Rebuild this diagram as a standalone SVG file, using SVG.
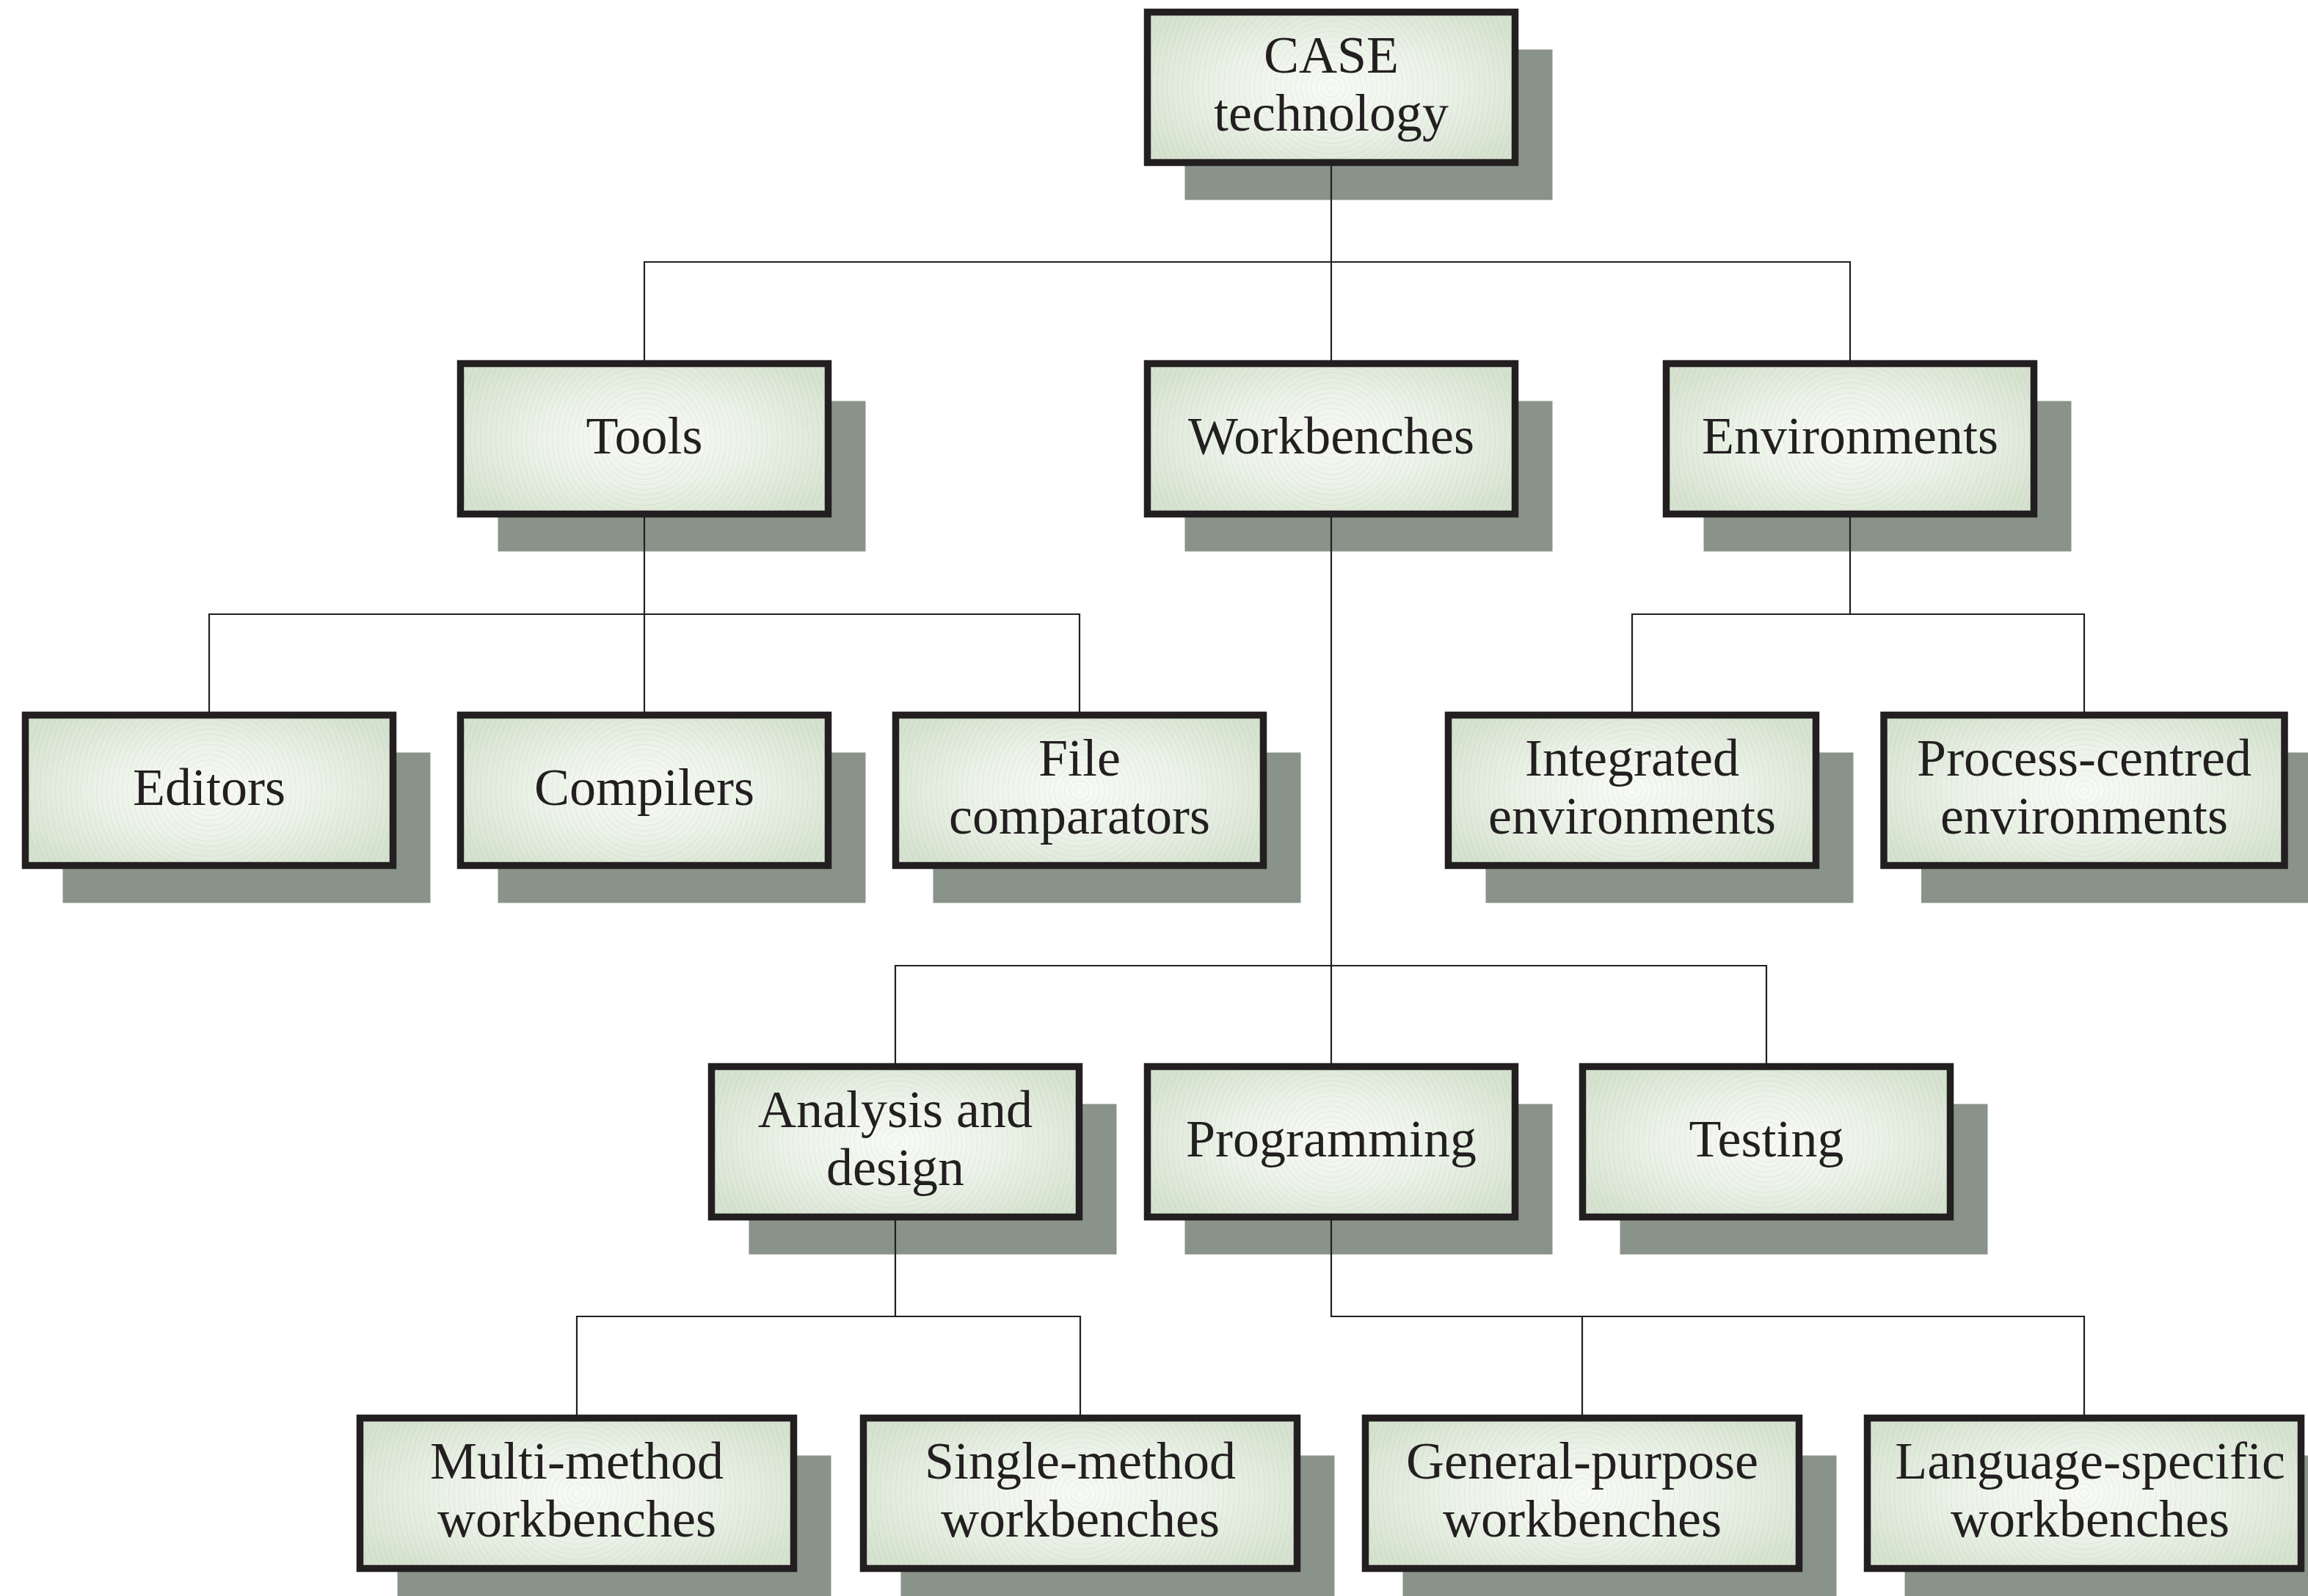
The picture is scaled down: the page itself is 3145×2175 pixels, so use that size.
<svg xmlns="http://www.w3.org/2000/svg" width="3145" height="2175" viewBox="0 0 3145 2175">
<defs>
<radialGradient id="fillGrad" cx="0.5" cy="0.5" r="0.62" fx="0.5" fy="0.5">
<stop offset="0" stop-color="#f8faf6"/>
<stop offset="0.45" stop-color="#edf3e9"/>
<stop offset="1" stop-color="#d5e2cf"/>
</radialGradient>
<radialGradient id="rings" gradientUnits="userSpaceOnUse" cx="0" cy="0" r="7" spreadMethod="repeat">
<stop offset="0" stop-color="#7f8a7f" stop-opacity="0"/>
<stop offset="0.8" stop-color="#7f8a7f" stop-opacity="0"/>
<stop offset="0.9" stop-color="#7f8a7f" stop-opacity="0.15"/>
<stop offset="1" stop-color="#7f8a7f" stop-opacity="0"/>
</radialGradient>
</defs>
<style>
.shadow{fill:#8a938a;}
.box{fill:url(#fillGrad);}
.ring{fill:url(#rings);}
.frame{fill:none;stroke:#231f20;stroke-width:9.5;}
.lbl{font-family:"Liberation Serif","Times New Roman",serif;font-size:72px;fill:#231f20;text-anchor:middle;}
.conn{fill:none;stroke:#231f20;stroke-width:2.2;}
</style>
<rect width="3145" height="2175" fill="#ffffff"/>

<g id="node-case" transform="translate(1814,119)">
<rect class="shadow" x="-199.5" y="-51.5" width="501" height="205"/>
<rect class="box" x="-250.5" y="-102.5" width="501" height="205"/>
<rect class="ring" x="-250.5" y="-102.5" width="501" height="205"/>
<rect class="frame" x="-250.5" y="-102.5" width="501" height="205"/>
<text class="lbl" x="0" y="-20">CASE</text>
<text class="lbl" x="0" y="59">technology</text>
</g>

<g id="node-tools" transform="translate(878,598)">
<rect class="shadow" x="-199.5" y="-51.5" width="501" height="205"/>
<rect class="box" x="-250.5" y="-102.5" width="501" height="205"/>
<rect class="ring" x="-250.5" y="-102.5" width="501" height="205"/>
<rect class="frame" x="-250.5" y="-102.5" width="501" height="205"/>
<text class="lbl" x="0" y="20">Tools</text>
</g>

<g id="node-workbenches" transform="translate(1814,598)">
<rect class="shadow" x="-199.5" y="-51.5" width="501" height="205"/>
<rect class="box" x="-250.5" y="-102.5" width="501" height="205"/>
<rect class="ring" x="-250.5" y="-102.5" width="501" height="205"/>
<rect class="frame" x="-250.5" y="-102.5" width="501" height="205"/>
<text class="lbl" x="0" y="20">Workbenches</text>
</g>

<g id="node-environments" transform="translate(2521,598)">
<rect class="shadow" x="-199.5" y="-51.5" width="501" height="205"/>
<rect class="box" x="-250.5" y="-102.5" width="501" height="205"/>
<rect class="ring" x="-250.5" y="-102.5" width="501" height="205"/>
<rect class="frame" x="-250.5" y="-102.5" width="501" height="205"/>
<text class="lbl" x="0" y="20">Environments</text>
</g>

<g id="node-editors" transform="translate(285,1077)">
<rect class="shadow" x="-199.5" y="-51.5" width="501" height="205"/>
<rect class="box" x="-250.5" y="-102.5" width="501" height="205"/>
<rect class="ring" x="-250.5" y="-102.5" width="501" height="205"/>
<rect class="frame" x="-250.5" y="-102.5" width="501" height="205"/>
<text class="lbl" x="0" y="20">Editors</text>
</g>

<g id="node-compilers" transform="translate(878,1077)">
<rect class="shadow" x="-199.5" y="-51.5" width="501" height="205"/>
<rect class="box" x="-250.5" y="-102.5" width="501" height="205"/>
<rect class="ring" x="-250.5" y="-102.5" width="501" height="205"/>
<rect class="frame" x="-250.5" y="-102.5" width="501" height="205"/>
<text class="lbl" x="0" y="20">Compilers</text>
</g>

<g id="node-file-comparators" transform="translate(1471,1077)">
<rect class="shadow" x="-199.5" y="-51.5" width="501" height="205"/>
<rect class="box" x="-250.5" y="-102.5" width="501" height="205"/>
<rect class="ring" x="-250.5" y="-102.5" width="501" height="205"/>
<rect class="frame" x="-250.5" y="-102.5" width="501" height="205"/>
<text class="lbl" x="0" y="-20">File</text>
<text class="lbl" x="0" y="59">comparators</text>
</g>

<g id="node-integrated" transform="translate(2224,1077)">
<rect class="shadow" x="-199.5" y="-51.5" width="501" height="205"/>
<rect class="box" x="-250.5" y="-102.5" width="501" height="205"/>
<rect class="ring" x="-250.5" y="-102.5" width="501" height="205"/>
<rect class="frame" x="-250.5" y="-102.5" width="501" height="205"/>
<text class="lbl" x="0" y="-20">Integrated</text>
<text class="lbl" x="0" y="59">environments</text>
</g>

<g id="node-process-centred" transform="translate(2840,1077)">
<rect class="shadow" x="-222" y="-51.5" width="546" height="205"/>
<rect class="box" x="-273" y="-102.5" width="546" height="205"/>
<rect class="ring" x="-273" y="-102.5" width="546" height="205"/>
<rect class="frame" x="-273" y="-102.5" width="546" height="205"/>
<text class="lbl" x="0" y="-20">Process-centred</text>
<text class="lbl" x="0" y="59">environments</text>
</g>

<g id="node-analysis" transform="translate(1220,1556)">
<rect class="shadow" x="-199.5" y="-51.5" width="501" height="205"/>
<rect class="box" x="-250.5" y="-102.5" width="501" height="205"/>
<rect class="ring" x="-250.5" y="-102.5" width="501" height="205"/>
<rect class="frame" x="-250.5" y="-102.5" width="501" height="205"/>
<text class="lbl" x="0" y="-20">Analysis and</text>
<text class="lbl" x="0" y="59">design</text>
</g>

<g id="node-programming" transform="translate(1814,1556)">
<rect class="shadow" x="-199.5" y="-51.5" width="501" height="205"/>
<rect class="box" x="-250.5" y="-102.5" width="501" height="205"/>
<rect class="ring" x="-250.5" y="-102.5" width="501" height="205"/>
<rect class="frame" x="-250.5" y="-102.5" width="501" height="205"/>
<text class="lbl" x="0" y="20">Programming</text>
</g>

<g id="node-testing" transform="translate(2407,1556)">
<rect class="shadow" x="-199.5" y="-51.5" width="501" height="205"/>
<rect class="box" x="-250.5" y="-102.5" width="501" height="205"/>
<rect class="ring" x="-250.5" y="-102.5" width="501" height="205"/>
<rect class="frame" x="-250.5" y="-102.5" width="501" height="205"/>
<text class="lbl" x="0" y="20">Testing</text>
</g>

<g id="node-multi-method" transform="translate(786,2035)">
<rect class="shadow" x="-244.5" y="-51.5" width="591" height="205"/>
<rect class="box" x="-295.5" y="-102.5" width="591" height="205"/>
<rect class="ring" x="-295.5" y="-102.5" width="591" height="205"/>
<rect class="frame" x="-295.5" y="-102.5" width="591" height="205"/>
<text class="lbl" x="0" y="-20">Multi-method</text>
<text class="lbl" x="0" y="59">workbenches</text>
</g>

<g id="node-single-method" transform="translate(1472,2035)">
<rect class="shadow" x="-244.5" y="-51.5" width="591" height="205"/>
<rect class="box" x="-295.5" y="-102.5" width="591" height="205"/>
<rect class="ring" x="-295.5" y="-102.5" width="591" height="205"/>
<rect class="frame" x="-295.5" y="-102.5" width="591" height="205"/>
<text class="lbl" x="0" y="-20">Single-method</text>
<text class="lbl" x="0" y="59">workbenches</text>
</g>

<g id="node-general-purpose" transform="translate(2156,2035)">
<rect class="shadow" x="-244.5" y="-51.5" width="591" height="205"/>
<rect class="box" x="-295.5" y="-102.5" width="591" height="205"/>
<rect class="ring" x="-295.5" y="-102.5" width="591" height="205"/>
<rect class="frame" x="-295.5" y="-102.5" width="591" height="205"/>
<text class="lbl" x="0" y="-20">General-purpose</text>
<text class="lbl" x="0" y="59">workbenches</text>
</g>

<g id="node-language-specific" transform="translate(2840,2035)">
<rect class="shadow" x="-244.5" y="-51.5" width="591" height="205"/>
<rect class="box" x="-295.5" y="-102.5" width="591" height="205"/>
<rect class="ring" x="-295.5" y="-102.5" width="591" height="205"/>
<rect class="frame" x="-295.5" y="-102.5" width="591" height="205"/>
<text class="lbl" x="8" y="-20">Language-specific</text>
<text class="lbl" x="8" y="59">workbenches</text>
</g>

<g id="connectors">
<path class="conn" d="M1814 226 V357 M878 491 V357 H2521 V491 M1814 357 V491"/>
<path class="conn" d="M878 705 V837 M285 970 V837 H1471 V970 M878 837 V970"/>
<path class="conn" d="M2521 705 V837 M2224 970 V837 H2840 V970"/>
<path class="conn" d="M1814 705 V1316 M1220 1449 V1316 H2407 V1449 M1814 1316 V1449"/>
<path class="conn" d="M1220 1663 V1794 M786 1928 V1794 H1472 V1928"/>
<path class="conn" d="M1814 1663 V1794 H2840 V1928 M2156 1794 V1928"/>
</g>
</svg>
